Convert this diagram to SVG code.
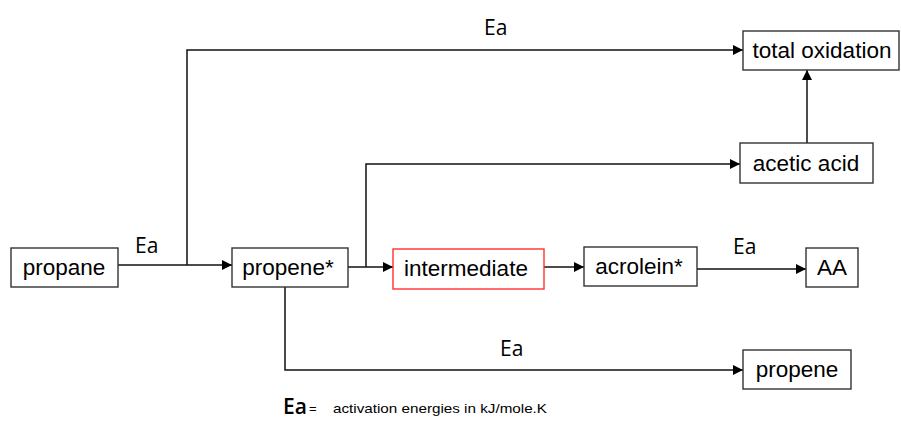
<svg xmlns="http://www.w3.org/2000/svg" width="901" height="421" viewBox="0 0 901 421">
<defs>
<marker id="ah" viewBox="0 0 10 10" refX="10" refY="5" markerWidth="10" markerHeight="10" markerUnits="userSpaceOnUse" orient="auto">
<path d="M0,0 L10,5 L0,10 z" fill="#000"/>
</marker>
<style>
.box{fill:#fff;stroke:#333;stroke-width:1.4}
.red{fill:#fff;stroke:#ff3030;stroke-width:1.4}
.lbl{font-family:"Liberation Sans",Arial,sans-serif;font-size:22.5px;fill:#000;text-anchor:middle}
.ea{font-family:"Open Sans","Liberation Sans",sans-serif;font-size:21px;fill:#000}
.small{font-family:"Liberation Sans",Arial,sans-serif;font-size:13px;fill:#000}
.ln{fill:none;stroke:#111;stroke-width:1.5}
.arr{fill:none;stroke:#111;stroke-width:1.5;marker-end:url(#ah)}
</style>
</defs>
<rect width="901" height="421" fill="#fff"/>
<g id="connectors">
<path class="arr" d="M118,265 H232"/>
<path class="arr" d="M187,265 V50 H743"/>
<path class="arr" d="M348,267 H393"/>
<path class="arr" d="M366,267 V164 H740"/>
<path class="arr" d="M544,267 H584"/>
<path class="arr" d="M697,269 H806"/>
<path class="arr" d="M807,143 V70"/>
<path class="arr" d="M285,287 V370 H743"/>
<text class="ea" x="135" y="253">Ea</text>
<text class="ea" x="484" y="35">Ea</text>
<text class="ea" x="733" y="254">Ea</text>
<text class="ea" x="500" y="356">Ea</text>
</g>
<g id="propane"><rect class="box" x="11" y="248" width="107" height="39"/><text class="lbl" x="64" y="275">propane</text></g>
<g id="propene-star"><rect class="box" x="232" y="248" width="116" height="39"/><text class="lbl" x="288" y="275">propene*</text></g>
<g id="intermediate"><rect class="red" x="393" y="249" width="151" height="40"/><text class="lbl" x="466" y="276">intermediate</text></g>
<g id="acrolein-star"><rect class="box" x="584" y="247" width="113" height="39"/><text class="lbl" x="639" y="274">acrolein*</text></g>
<g id="AA"><rect class="box" x="806" y="248" width="52" height="39"/><text class="lbl" x="832" y="275">AA</text></g>
<g id="total-oxidation"><rect class="box" x="743" y="31" width="156" height="39"/><text class="lbl" x="822" y="58">total oxidation</text></g>
<g id="acetic-acid"><rect class="box" x="740" y="143" width="133" height="40"/><text class="lbl" x="806" y="171">acetic acid</text></g>
<g id="propene"><rect class="box" x="743" y="350" width="108" height="39"/><text class="lbl" x="797" y="377">propene</text></g>
<g id="legend">
<text class="ea" x="283" y="414" font-size="20" font-weight="600">Ea</text>
<text class="small" x="309" y="413">=</text>
<text class="small" x="333" y="413" textLength="214" lengthAdjust="spacingAndGlyphs">activation energies in kJ/mole.K</text>
</g>
</svg>
